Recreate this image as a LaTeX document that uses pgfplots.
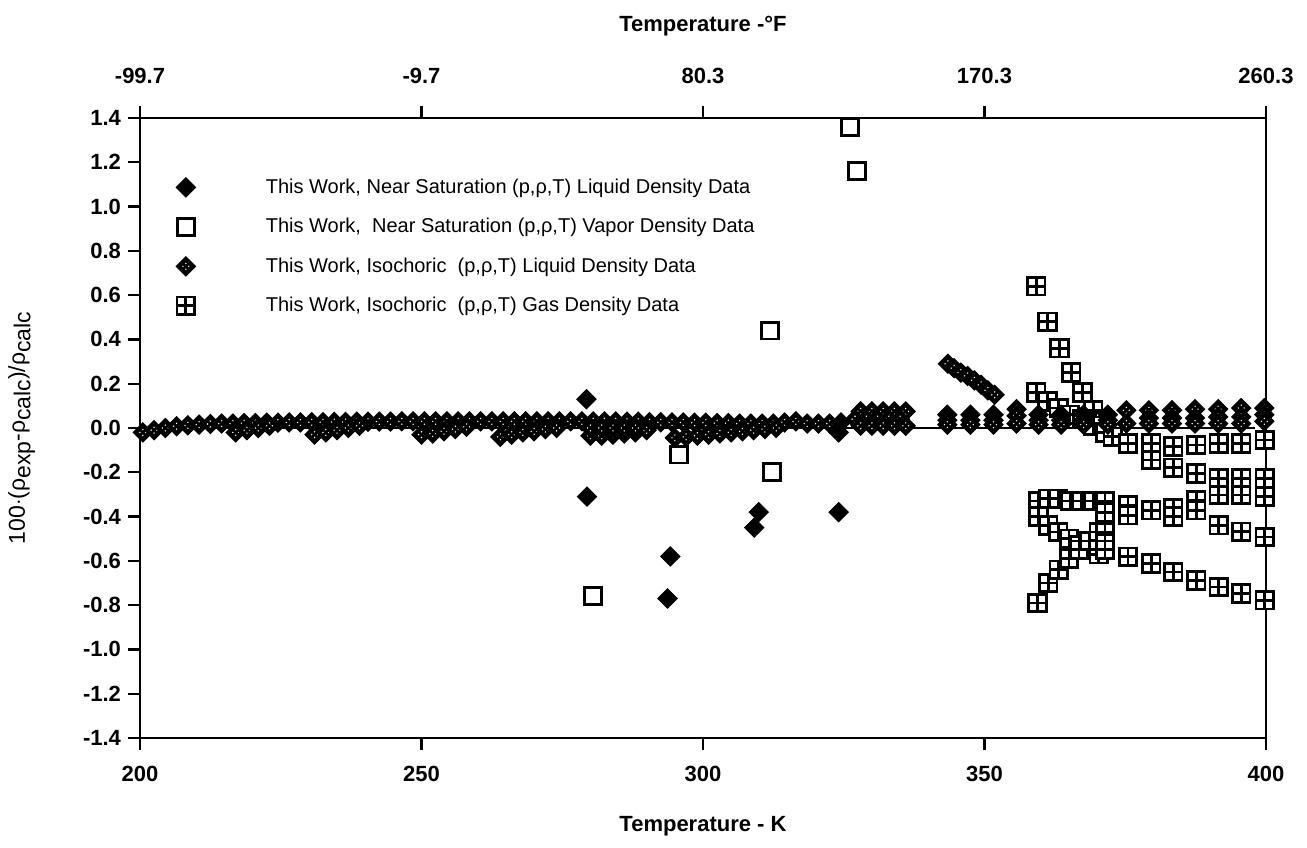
\documentclass[border=0pt]{standalone}
\usepackage{pgfplots}
\pgfplotsset{compat=1.18}
\usepackage{fontspec}
\setmainfont{Liberation Sans}
\usetikzlibrary{plotmarks}

% marks drawn the way the scanned figure shows them
\pgfdeclareplotmark{sqdiamond}{%
  \pgfpathmoveto{\pgfqpoint{0pt}{\pgfplotmarksize}}%
  \pgfpathlineto{\pgfqpoint{\pgfplotmarksize}{0pt}}%
  \pgfpathlineto{\pgfqpoint{0pt}{-\pgfplotmarksize}}%
  \pgfpathlineto{\pgfqpoint{-\pgfplotmarksize}{0pt}}%
  \pgfpathclose
  \pgfusepathqfillstroke}
\pgfdeclareplotmark{dotdiamond}{%
  \pgfpathmoveto{\pgfqpoint{0pt}{\pgfplotmarksize}}%
  \pgfpathlineto{\pgfqpoint{\pgfplotmarksize}{0pt}}%
  \pgfpathlineto{\pgfqpoint{0pt}{-\pgfplotmarksize}}%
  \pgfpathlineto{\pgfqpoint{-\pgfplotmarksize}{0pt}}%
  \pgfpathclose
  \pgfusepathqfillstroke
  \begin{pgfscope}%
  \pgfsetfillcolor{white}%
  \pgfpathcircle{\pgfqpoint{0.3\pgfplotmarksize}{0pt}}{0.08\pgfplotmarksize}%
  \pgfpathcircle{\pgfqpoint{-0.3\pgfplotmarksize}{0pt}}{0.08\pgfplotmarksize}%
  \pgfpathcircle{\pgfqpoint{0pt}{0.3\pgfplotmarksize}}{0.08\pgfplotmarksize}%
  \pgfpathcircle{\pgfqpoint{0pt}{-0.3\pgfplotmarksize}}{0.08\pgfplotmarksize}%
  \pgfusepathqfill
  \end{pgfscope}}
\pgfdeclareplotmark{gridsquare}{%
  \pgfpathrectangle{\pgfqpoint{-\pgfplotmarksize}{-\pgfplotmarksize}}{\pgfqpoint{2\pgfplotmarksize}{2\pgfplotmarksize}}%
  \pgfusepathqfillstroke
  \pgfpathmoveto{\pgfqpoint{-\pgfplotmarksize}{0pt}}\pgfpathlineto{\pgfqpoint{\pgfplotmarksize}{0pt}}%
  \pgfpathmoveto{\pgfqpoint{0pt}{-\pgfplotmarksize}}\pgfpathlineto{\pgfqpoint{0pt}{\pgfplotmarksize}}%
  \pgfusepathqstroke}

\pgfplotsset{
  liqsat/.style={only marks, mark=sqdiamond, mark size=4.8pt, mark options={fill=black, draw=black, line width=0.5pt}},
  vapsat/.style={only marks, mark=square*, mark size=4.2pt, mark options={fill=white, draw=black, line width=1.45pt}},
  liqiso/.style={only marks, mark=dotdiamond, mark size=4.8pt, mark options={fill=black, draw=black, line width=0.5pt}},
  gasiso/.style={only marks, mark=gridsquare, mark size=4.4pt, mark options={fill=white, draw=black, line width=1.4pt}},
  legimg/.style={legend image code/.code={%
      \path[draw=none, fill=none] (-4.5pt,-4.5pt) rectangle (39pt,4.5pt);
      \draw[##1] plot coordinates {(0pt,0pt)};}},
}

\begin{document}
\begin{tikzpicture}
\begin{axis}[
  name=ax,
  scale only axis, width=563pt, height=310pt,
  xmin=200, xmax=400, ymin=-1.4, ymax=1.4,
  xtick={200,250,300,350,400},
  ytick={-1.4,-1.2,-1.0,-0.8,-0.6,-0.4,-0.2,0,0.2,0.4,0.6,0.8,1.0,1.2,1.4},
  xtick pos=bottom, ytick pos=left,
  tick align=outside, major tick length=6pt,
  axis line style={line width=1.2pt}, tick style={line width=1.2pt, black},
  /pgf/number format/assume math mode=true,
  tick label style={font=\bfseries\fontsize{11}{13}\selectfont},
  yticklabel style={/pgf/number format/.cd, fixed, fixed zerofill, precision=1},
  xticklabel style={/pgf/number format/.cd, fixed, precision=0, /tikz/yshift=-4.5pt},
  xlabel={Temperature - K},
  xlabel style={font=\bfseries\fontsize{11}{13}\selectfont, at={(axis description cs:0.5,-0.142)}, anchor=center},
  ylabel={100$\cdot$(ρ\raisebox{-0.45ex}{exp}-ρ\raisebox{-0.45ex}{calc})/ρ\raisebox{-0.45ex}{calc}},
  ylabel style={font=\fontsize{11.5}{13}\selectfont, at={(axis description cs:-0.105,0.5)}, anchor=center},
  legend cell align=left,
  legend style={draw=none, fill=none, at={(axis cs:205.3,1.155)}, anchor=north west,
    row sep=9pt, font=\fontsize{10}{12}\selectfont, nodes={inner sep=1pt}},
]
% legend entries first, data plotted afterwards with forget plot
\addlegendimage{liqsat, legimg}
\addlegendentry{This Work, Near Saturation (p,ρ,T) Liquid Density Data}
\addlegendimage{vapsat, legimg}
\addlegendentry{This Work,\ \ Near Saturation (p,ρ,T) Vapor Density Data}
\addlegendimage{liqiso, legimg}
\addlegendentry{This Work, Isochoric\ \ (p,ρ,T) Liquid Density Data}
\addlegendimage{gasiso, legimg}
\addlegendentry{This Work, Isochoric\ \ (p,ρ,T) Gas Density Data}

% zero reference line
\addplot[black, line width=1.2pt, forget plot] coordinates {(200,0) (398,0)};

% isochoric gas
\addplot[gasiso, forget plot] coordinates {
 (359.2,0.64) (361.2,0.48) (363.3,0.36) (365.4,0.25) (367.4,0.16) (369.3,0.08) (371.3,0.03)
 (359.2,0.16) (361.2,0.12) (363.2,0.09) (365.2,0.06) (367.3,0.04) (369.3,0.01) (371.4,-0.02) (372.8,-0.04)
 (375.5,-0.07) (379.6,-0.07) (379.6,-0.145) (383.5,-0.084) (383.5,-0.18) (387.6,-0.077) (387.6,-0.205)
 (391.6,-0.07) (391.6,-0.228) (395.6,-0.07) (395.6,-0.228) (399.8,-0.054) (399.8,-0.228)
 (391.6,-0.303) (395.6,-0.303) (399.8,-0.31)
 (359.6,-0.33) (361.3,-0.32) (363.1,-0.32) (365.2,-0.33) (367.2,-0.33) (369.3,-0.33) (371.4,-0.33)
 (375.5,-0.348) (375.5,-0.394) (379.6,-0.371) (383.5,-0.363) (383.5,-0.40) (387.6,-0.326) (387.6,-0.371)
 (391.6,-0.439) (395.6,-0.469) (399.8,-0.492)
 (359.6,-0.40) (361.3,-0.44) (363.1,-0.47) (365.0,-0.50) (366.8,-0.53) (368.5,-0.55) (370.3,-0.57)
 (359.4,-0.79) (361.3,-0.70) (363.2,-0.64) (365.0,-0.59) (366.8,-0.55) (368.6,-0.51) (370.3,-0.47)
 (371.4,-0.43) (371.4,-0.38) (371.4,-0.52)
 (371.4,-0.55) (375.5,-0.582) (379.6,-0.612) (383.5,-0.65) (387.6,-0.688) (391.6,-0.718) (395.6,-0.748) (399.8,-0.778)
};

% isochoric liquid
\addplot[liqiso, forget plot] coordinates {
 (200.5,-0.02) (202.5,-0.01) (204.5,0.0) (206.5,0.008) (208.5,0.012) (210.5,0.015) (212.5,0.018) (214.5,0.02)
 (216.5,0.02) (218.5,0.022) (220.5,0.022) (222.5,0.024) (224.5,0.024) (226.5,0.025) (228.5,0.025) (230.5,0.026)
 (232.5,0.026) (234.5,0.027) (236.5,0.027) (238.5,0.028) (240.5,0.028) (242.5,0.029) (244.5,0.029) (246.5,0.03)
 (248.5,0.03) (250.5,0.03) (252.5,0.03) (254.5,0.03) (256.5,0.03) (258.5,0.03) (260.5,0.03) (262.5,0.03)
 (264.5,0.03) (266.5,0.03) (268.5,0.03) (270.5,0.03) (272.5,0.03) (274.5,0.03) (276.5,0.03) (278.5,0.03)
 (280.5,0.03) (282.5,0.03) (284.5,0.03) (286.5,0.028) (288.5,0.028) (290.5,0.026) (292.5,0.026) (294.5,0.025)
 (296.5,0.025) (298.5,0.024) (300.5,0.024) (302.5,0.022) (304.5,0.022) (306.5,0.02) (308.5,0.02) (310.5,0.02)
 (312.5,0.02) (314.5,0.025) (316.5,0.03) (318.5,0.02) (320.5,0.02) (322.5,0.02)
 (217,-0.02) (219,-0.01) (221,0.0) (223,0.01)
 (231,-0.03) (233,-0.02) (235,-0.01) (237,0.0) (239,0.01)
 (250,-0.03) (252,-0.025) (254,-0.015) (256,-0.005) (258,0.005)
 (264,-0.04) (266,-0.03) (268,-0.02) (270,-0.015) (272,-0.005) (274,0.0)
 (280,-0.035) (282,-0.035) (284,-0.03) (286,-0.025) (288,-0.02) (290,-0.01)
 (280,0.0) (282,0.0) (284,0.0) (286,0.0) (288,0.0)
 (295,-0.045) (297,-0.04) (299,-0.035) (301,-0.03) (303,-0.025) (305,-0.02) (307,-0.015) (309,-0.01) (311,-0.005) (313,0.0)
 (328,0.075) (330,0.075) (332,0.075) (334,0.075) (336,0.075)
 (327,0.04) (329,0.04) (331,0.04) (333,0.04) (335,0.04)
 (328,0.01) (330,0.01) (332,0.01) (334,0.01) (336,0.01)
 (343.5,0.29) (344.6,0.27) (345.8,0.25) (347.0,0.235) (348.2,0.215) (349.4,0.195) (350.6,0.17) (351.8,0.15)
 (343.4,0.06) (343.4,0.035) (343.4,0.015)
 (347.5,0.06) (347.5,0.035) (347.5,0.015)
 (351.6,0.06) (351.6,0.035) (351.6,0.015)
 (355.7,0.085) (355.7,0.055) (355.7,0.02)
 (359.6,0.06) (359.6,0.035) (359.6,0.015)
 (363.6,0.06) (363.6,0.035) (363.6,0.015)
 (367.6,0.06) (367.6,0.035) (367.6,0.015)
 (371.9,0.06) (371.9,0.035) (371.9,0.015)
 (375.2,0.08) (375.2,0.02) (379.2,0.08) (379.2,0.045) (379.2,0.02)
 (383.3,0.08) (383.3,0.045) (383.3,0.02) (387.4,0.085) (387.4,0.045) (387.4,0.02)
 (391.5,0.085) (391.5,0.05) (391.5,0.02) (395.6,0.09) (395.6,0.05) (395.6,0.02)
 (399.7,0.09) (399.7,0.06) (399.7,0.03)
};

% near saturation vapor
\addplot[vapsat, forget plot] coordinates {
 (280.5,-0.76) (295.7,-0.12) (312.3,-0.2) (311.9,0.44) (326.1,1.36) (327.4,1.16)
};

% near saturation liquid
\addplot[liqsat, forget plot] coordinates {
 (279.3,0.13) (279.4,-0.31) (294.2,-0.58) (293.7,-0.77) (309.9,-0.38) (309.1,-0.45)
 (324.1,-0.38) (324.1,-0.02) (324.5,0.025)
};
\end{axis}

\begin{axis}[
  scale only axis, width=563pt, height=310pt,
  xmin=200, xmax=400, ymin=-1.4, ymax=1.4,
  axis x line*=top, axis y line=none,
  xtick={200,250,300,350,400},
  xticklabels={-99.7,-9.7,80.3,170.3,260.3},
  tick align=outside, major tick length=6pt,
  axis line style={line width=1.2pt}, tick style={line width=1.2pt, black},
  tick label style={font=\bfseries\fontsize{11}{13}\selectfont},
  xticklabel style={yshift=7.5pt},
  xlabel={Temperature -°F},
  xlabel style={font=\bfseries\fontsize{11}{13}\selectfont, at={(axis description cs:0.5,1.148)}, anchor=center},
]
\end{axis}

\pgfresetboundingbox
\path ([shift={(-70pt,-55pt)}]ax.south west) rectangle ([shift={(20.5pt,59pt)}]ax.north east);
\end{tikzpicture}
\end{document}
